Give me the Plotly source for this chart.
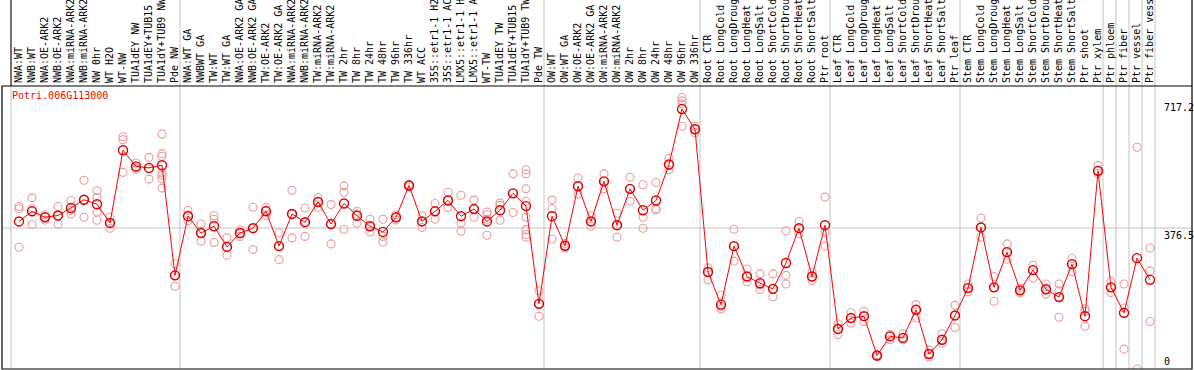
import plotly.graph_objects as go

categories = ["NWA:WT", "NWB:WT", "NWA:OE-ARK2", "NWB:OE-ARK2", "NWA:miRNA-ARK2", "NWB:miRNA-ARK2",
              "NW 0hr", "WT H2O", "WT-NW", "TUA1dEY NW", "TUA1dEY+TUB15", "TUA1dY+TUB9 NW", "Pde NW",
              "NWA:WT GA", "NWBWT GA", "TW:WT", "TW:WT GA", "NWA:OE-ARK2 GA", "NWB:OE-ARK2 GA",
              "TW:OE-ARK2", "TW:OE-ARK2 GA", "NWA:miRNA-ARK2", "NWB:miRNA-ARK2", "TW:miRNA-ARK2",
              "TW:miRNA-ARK2", "TW 2hr", "TW 8hr", "TW 24hr", "TW 48hr", "TW 96hr", "TW 336hr",
              "WT ACC", "35S::etr1-1 H2", "35S::etr1-1 AC", "LMX5::etr1-1 H", "LMX5::etr1-1 A",
              "WT-TW", "TUA1dEY TW", "TUA1dEY+TUB15", "TUA1dY+TUB9 TW", "Pde TW",
              "OW:WT", "OW:WT GA", "OW:OE-ARK2", "OW:OE-ARK2 GA", "OW:miRNA-ARK2", "OW:miRNA-ARK2",
              "OW 2hr", "OW 8hr", "OW 24hr", "OW 48hr", "OW 96hr", "OW 336hr",
              "Root CTR", "Root LongCold", "Root LongDroug", "Root LongHeat", "Root LongSalt",
              "Root ShortCold", "Root ShortDrou", "Root ShortHeat", "Root ShortSalt", "Ptr root",
              "Leaf CTR", "Leaf LongCold", "Leaf LongDroug", "Leaf LongHeat", "Leaf LongSalt",
              "Leaf ShortCold", "Leaf ShortDrou", "Leaf ShortHeat", "Leaf ShortSalt", "Ptr leaf",
              "Stem CTR", "Stem LongCold", "Stem LongDroug", "Stem LongHeat", "Stem LongSalt",
              "Stem ShortCold", "Stem ShortDrou", "Stem ShortHeat", "Stem ShortSalt", "Ptr shoot",
              "Ptr xylem", "Ptr phloem", "Ptr fiber", "Ptr vessel", "Ptr fiber vess"]

means = [394, 421, 405, 410, 430, 452, 440, 390, 584, 541, 537, 544, 250,
         408, 363, 381, 326, 363, 376, 421, 328, 414, 392, 446, 387, 442, 409, 381, 366, 405, 490,
         394, 421, 450, 408, 427, 394, 424, 469, 435, 174,
         408, 329, 488, 394, 501, 384, 481, 424, 450, 546, 694, 640,
         259, 172, 328, 247, 229, 214, 283, 376, 247, 384,
         107, 136, 141, 36, 87, 83, 158, 40, 78, 143,
         216, 378, 218, 312, 210, 264, 213, 192, 280, 141,
         529, 218, 150, 296, 238]

replicates = [
    [434, 428, 325], [457, 428, 385], [412, 405, 398], [434, 409, 387], [450, 423, 414],
    [504, 452, 405], [476, 458, 419, 397], [405, 390, 376], [620, 612, 525], [550, 537, 534],
    [565, 535, 507], [627, 575, 568, 523, 517, 508, 483], [281, 250, 221],
    [423, 412, 396], [387, 363, 341], [409, 400, 338], [350, 326, 304], [371, 361, 354],
    [432, 376, 319], [432, 424, 410], [363, 328, 292], [477, 414, 350], [430, 392, 354],
    [458, 446, 432], [439, 387, 334], [489, 472, 373], [421, 414, 390], [400, 381, 366],
    [400, 354, 339], [412, 405, 398], [493, 490, 486],
    [409, 394, 378], [442, 421, 400], [472, 450, 431], [464, 390, 368], [451, 427, 405],
    [419, 412, 400, 357], [443, 437, 397], [521, 469, 418],
    [532, 521, 481, 448, 405, 372, 359, 352], [209, 174, 141],
    [451, 428, 347], [335, 329, 323], [510, 488, 467], [409, 394, 381], [521, 501, 481],
    [416, 384, 352], [512, 481, 448], [492, 405, 376], [498, 427, 425], [563, 544, 532],
    [725, 716, 708, 648], [648, 640, 631],
    [270, 259, 238], [197, 167, 161], [373, 328, 288], [267, 247, 233], [254, 225, 212],
    [254, 214, 193], [369, 250, 227], [394, 376, 361], [259, 247, 236], [459, 366, 328],
    [120, 107, 92], [150, 136, 123], [154, 141, 127], [38, 36, 33], [92, 87, 78],
    [94, 83, 78], [172, 158, 136], [51, 40, 32], [94, 78, 69], [170, 143, 111],
    [227, 216, 206], [403, 378, 352], [247, 218, 181], [334, 310, 293], [216, 210, 204],
    [277, 264, 243], [227, 213, 200], [227, 209, 192, 138], [295, 280, 260], [161, 154, 114],
    [543, 529, 522], [234, 218, 204], [227, 163, 53], [592, 0], [323, 262, 127],
]

gene = "Potri.006G113000"
y_ticks = [717.2, 376.5, 0]
separators = [-1, 12, 40, 52, 62, 72, 83, 84, 85, 86, 87]

FONT = "DejaVu Sans Mono"
W, H = 1194, 370
ML, MR, MT, MB = 2, 2, 86, 1
plot_h = H - MT - MB
x_idx = list(range(len(categories)))
XR = [(ML - 19) / 13.0, (W - MR - 19) / 13.0]
YR = [0, plot_h * 2.67]

rx, ry = [], []
for i, reps in enumerate(replicates):
    for v in reps:
        rx.append(i)
        ry.append(v)

fig = go.Figure()
fig.add_trace(go.Scatter(x=rx, y=ry, mode="markers",
                         marker=dict(symbol="circle-open", size=8, color="#EE9A9A",
                                     line=dict(width=1.1)),
                         hoverinfo="skip", showlegend=False))
fig.add_trace(go.Scatter(x=x_idx, y=means, mode="lines",
                         line=dict(color="#FF0000", width=1), showlegend=False))
fig.add_trace(go.Scatter(x=x_idx, y=means, mode="markers",
                         marker=dict(symbol="circle-open", size=9, color="#DD0000",
                                     line=dict(width=1.4)),
                         showlegend=False))

shapes = []
top_paper = 1 + MT / plot_h
for s in separators:
    shapes.append(dict(type="line", xref="x", yref="paper", x0=s + 0.385, x1=s + 0.385,
                       y0=0, y1=top_paper, line=dict(color="#C4C4C4", width=1), layer="below"))
shapes.append(dict(type="line", xref="paper", yref="y", x0=0, x1=1, y0=y_ticks[1], y1=y_ticks[1],
                   line=dict(color="#C4C4C4", width=1), layer="below"))
shapes.append(dict(type="rect", xref="paper", yref="paper", x0=0, x1=1, y0=0, y1=1,
                   line=dict(color="black", width=1.2)))
shapes.append(dict(type="line", xref="x", yref="paper", x0=-1 + 0.385, x1=-1 + 0.385,
                   y0=1, y1=top_paper, line=dict(color="black", width=1)))
shapes.append(dict(type="line", xref="paper", yref="paper", x0=1, x1=1,
                   y0=1, y1=top_paper, line=dict(color="black", width=1.2)))

annotations = [
    dict(text=gene, xref="x", x=-0.69, xanchor="left", yref="paper", y=1, yanchor="top",
         yshift=-2, showarrow=False, font=dict(family=FONT, size=10, color="#FF0000")),
    dict(text=f"{y_ticks[0]}", xref="x", x=87.95, xanchor="left", yref="y", y=y_ticks[0],
         yanchor="top", showarrow=False, font=dict(family=FONT, size=10, color="black")),
    dict(text=f"{y_ticks[1]}", xref="x", x=87.95, xanchor="left", yref="y", y=y_ticks[1],
         yanchor="top", showarrow=False, font=dict(family=FONT, size=10, color="black")),
    dict(text=f"{y_ticks[2]:g}", xref="x", x=87.95, xanchor="left", yref="y", y=y_ticks[2],
         yanchor="bottom", showarrow=False, font=dict(family=FONT, size=10, color="black")),
]

fig.update_layout(
    width=W, height=H,
    margin=dict(l=ML, r=MR, t=MT, b=MB, pad=0),
    plot_bgcolor="white", paper_bgcolor="white",
    shapes=shapes, annotations=annotations,
    xaxis=dict(range=XR, side="top", tickmode="array", tickvals=x_idx, ticktext=categories,
               tickangle=-90, tickfont=dict(family=FONT, size=10, color="black"),
               ticklabelstandoff=2,
               showgrid=False, zeroline=False, showline=False, ticks="", automargin=False),
    yaxis=dict(range=YR, showgrid=False, zeroline=False, showticklabels=False, showline=False,
               ticks="", automargin=False),
    hovermode=False,
)

fig.write_html("out.html", config={"displayModeBar": False, "staticPlot": True},
               post_script="document.body.style.margin='0';document.body.style.overflow='hidden';")
